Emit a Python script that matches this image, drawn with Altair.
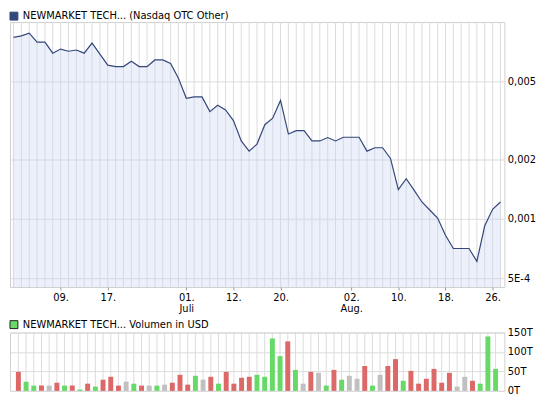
import altair as alt
import pandas as pd

# ---- data ----
idx = list(range(63))
price = [0.00836, 0.00851, 0.00879, 0.00791, 0.00791, 0.00695, 0.00729, 0.00711, 0.00721, 0.00695,
         0.00782, 0.00688, 0.00604, 0.00594, 0.00594, 0.00632, 0.00594, 0.00594, 0.00642, 0.00642,
         0.00616, 0.00518, 0.00410, 0.00417, 0.00417, 0.00351, 0.00378, 0.00358, 0.00316, 0.00249,
         0.00221, 0.00240, 0.00301, 0.00325, 0.00400, 0.00270, 0.00281, 0.00281, 0.00249, 0.00249,
         0.00259, 0.00249, 0.00260, 0.00260, 0.00260, 0.00221, 0.00230, 0.00230, 0.00203, 0.00141,
         0.00160, 0.00140, 0.00122, 0.00111, 0.00101, 0.000827, 0.000708, 0.000708, 0.000708, 0.000609,
         0.000923, 0.00112, 0.00122]
volume_t = [49, 23.6, 13.5, 13.5, 13.5, 21, 13.5, 13.5, 3.4, 18.5,
            11, 28.7, 36.2, 13.5, 23.6, 18.5, 13.5, 13.5, 13.5, 16,
            21, 41.3, 16, 38.8, 28.7, 36.2, 18.5, 48.9, 18.5, 33.7,
            36.2, 41.3, 36.2, 134.8, 89.3, 127.2, 53.9, 18.5, 48.9, 46.3,
            13.5, 53.9, 28.7, 38.8, 31.2, 64, 13.5, 41.3, 64, 81.7,
            26, 51.4, 18.5, 31.2, 56.5, 21, 46.3, 11, 36.2, 26,
            18.5, 140, 56.5]
direction = ["down", "up", "up", "down", "flat", "down", "up", "down", "up", "down",
             "up", "down", "down", "down", "flat", "up", "down", "flat", "up", "flat",
             "down", "down", "down", "up", "flat", "down", "up", "down", "down", "down",
             "down", "up", "up", "up", "up", "down", "up", "flat", "down", "flat",
             "up", "down", "up", "flat", "flat", "down", "up", "flat", "down", "down",
             "up", "down", "down", "down", "down", "down", "down", "flat", "flat", "down",
             "up", "up", "up"]

tick_idx = [6, 12, 22, 28, 34, 43, 49, 55, 61]
tick_labels = [["09."], ["17."], ["01.", "Juli"], ["12."], ["20."], ["02.", "Aug."], ["10."], ["18."], ["26."]]
price_ticks = [0.0005, 0.001, 0.002, 0.005]
price_tick_labels = ["5E-4", "0,001", "0,002", "0,005"]
vol_ticks = [0, 50, 100, 150]
vol_tick_labels = ["0T", "50T", "100T", "150T"]

price_name = "NEWMARKET TECH... (Nasdaq OTC Other)"
vol_name = "NEWMARKET TECH... Volumen in USD"

df = pd.DataFrame({"i": idx, "price": price, "vol": volume_t, "dir": direction})
df["series"] = price_name

FONT = "DejaVu Sans"
W = 500
H_TOP = 268
H_BOT = 59
PMIN, PMAX = 0.000451, 0.01

xs = alt.Scale(domain=[-0.45, 62.5], nice=False, zero=False)
ys = alt.Scale(type="log", domain=[PMIN, PMAX], nice=False)


def lbl_expr(vals, labels):
    return "%s[indexof(%s, datum.value)]" % (repr(labels).replace('"', "'"), repr(vals))


x_axis = alt.Axis(values=tick_idx, labelExpr=lbl_expr(tick_idx, tick_labels), grid=False,
                  domain=False, ticks=True, tickSize=3, tickColor="#999999",
                  labelFont=FONT, labelFontSize=10, labelColor="#000000", labelPadding=3,
                  labelLineHeight=11, labelFlush=False, labelOverlap=False, title=None)
y_axis = alt.Axis(orient="right", values=price_ticks,
                  labelExpr=lbl_expr(price_ticks, price_tick_labels),
                  grid=True, gridColor="#dcdcdc", ticks=False, domain=False,
                  labelFont=FONT, labelFontSize=10, labelColor="#000000", labelPadding=3,
                  title=None)

x_top = alt.X("i:Q", scale=xs, axis=x_axis)
y_top = alt.Y("price:Q", scale=ys, axis=y_axis, stack=None)

base = alt.Chart(df)
vgrid = base.mark_rule(color="#dcdcdc", strokeWidth=1).encode(x=x_top)
area = base.mark_area(color="#c9d5f0", opacity=0.35).encode(
    x=x_top,
    y=y_top,
    y2=alt.Y2(datum=PMIN),
)
line = base.mark_line(strokeWidth=1.2).encode(
    x=x_top,
    y=y_top,
    color=alt.Color("series:N", scale=alt.Scale(range=["#34477a"]),
                    legend=alt.Legend(title=None, orient="none", legendX=-1, legendY=-11,
                                      symbolType="square", symbolSize=64,
                                      symbolFillColor="#34477a", symbolStrokeColor="#222222",
                                      symbolStrokeWidth=1, labelFont=FONT, labelFontSize=10,
                                      labelColor="#000000", padding=0, labelOffset=4,
                                      labelLimit=0)),
)
top = alt.layer(vgrid, area, line).properties(width=W, height=H_TOP)

x_bot = alt.X("i:Q", scale=xs, axis=None)
vgrid2 = base.mark_rule(color="#dcdcdc", strokeWidth=1).encode(x=x_bot)
bars = base.mark_bar(size=5).encode(
    x=x_bot,
    y=alt.Y("vol:Q", scale=alt.Scale(domain=[0, 150], nice=False),
            axis=alt.Axis(orient="right", values=vol_ticks,
                          labelExpr=lbl_expr(vol_ticks, vol_tick_labels),
                          grid=True, gridColor="#dcdcdc", ticks=False, domain=False,
                          labelFont=FONT, labelFontSize=10, labelColor="#000000",
                          labelPadding=3, title=None)),
    color=alt.Color("dir:N",
                    scale=alt.Scale(domain=["up", "down", "flat"],
                                    range=["#66d966", "#dc6868", "#c0c0c0"]),
                    legend=alt.Legend(title=None, values=["up"], labelExpr="'%s'" % vol_name,
                                      orient="none", legendX=-1, legendY=-13,
                                      symbolType="square", symbolSize=64,
                                      symbolStrokeColor="#222222", symbolStrokeWidth=1,
                                      labelFont=FONT, labelFontSize=10, labelColor="#000000",
                                      padding=0, labelOffset=4, labelLimit=0)),
)
bottom = alt.layer(vgrid2, bars).properties(width=W, height=H_BOT)

chart = alt.vconcat(top, bottom, spacing=4).resolve_scale(color="independent").properties(
    padding=0
).configure_view(stroke="#cfcfcf", strokeWidth=1)

chart.save("out.html", embed_options={"renderer": "svg", "actions": False})
